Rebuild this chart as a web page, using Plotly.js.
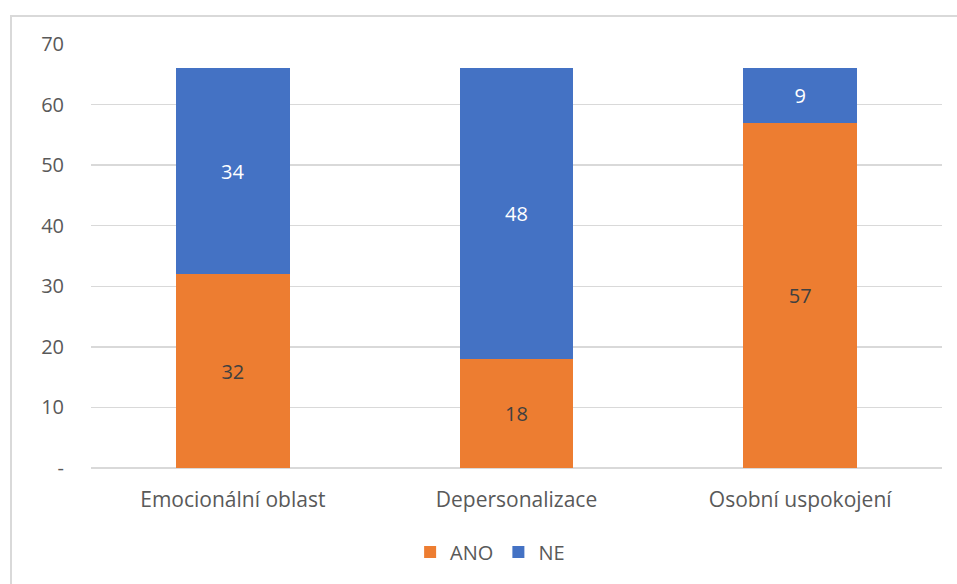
<!DOCTYPE html>
<html><head><meta charset="utf-8">
<script src="https://cdn.plot.ly/plotly-3.0.1.min.js"></script>
<style>
html,body{margin:0;padding:0;background:#fff;overflow:hidden;}
#frame{position:absolute;left:10px;top:15px;width:980px;height:600px;border:2px solid #d9d9d9;box-sizing:border-box;}
#chart{position:absolute;left:0;top:0;width:957px;height:584px;}
</style></head>
<body>
<div id="frame"></div>
<div id="chart"></div>
<script>
const categories = ["Emocionální oblast", "Depersonalizace", "Osobní uspokojení"];
const ano = [32, 18, 57];
const ne = [34, 48, 9];
const tickVals = [0, 10, 20, 30, 40, 50, 60, 70];
const tickText = ["-", "10", "20", "30", "40", "50", "60", "70"];

const fam = "Open Sans, Noto Sans, sans-serif";
const grey = "#595959";
const traces = [
  {type: "bar", name: "ANO", x: categories, y: ano, marker: {color: "#ED7D31"}, width: 0.4,
   text: ano.map(String), textposition: "inside", insidetextanchor: "middle",
   textfont: {family: fam, size: 20, color: "#404040"}, hoverinfo: "none"},
  {type: "bar", name: "NE", x: categories, y: ne, marker: {color: "#4472C4"}, width: 0.4,
   text: ne.map(String), textposition: "inside", insidetextanchor: "middle",
   textfont: {family: fam, size: 20, color: "#ffffff"}, hoverinfo: "none"}
];
const layout = {
  width: 957, height: 584,
  barmode: "stack",
  paper_bgcolor: "rgba(0,0,0,0)", plot_bgcolor: "rgba(0,0,0,0)",
  margin: {l: 91, r: 15, t: 44, b: 116},
  font: {family: fam, size: 20, color: grey},
  showlegend: true,
  legend: {orientation: "h", x: 0.469, xanchor: "center", y: -0.198, yanchor: "middle",
           font: {family: fam, size: 20, color: grey}, itemwidth: 30, traceorder: "normal"},
  xaxis: {showgrid: false, zeroline: false, showline: false, ticks: "", ticklabelstandoff: 17,
          tickfont: {family: fam, size: 21, color: grey}},
  yaxis: {range: [0, 70], tickvals: tickVals, ticktext: tickText, showgrid: true,
          gridcolor: "#d9d9d9", gridwidth: 1.5, zeroline: true, zerolinecolor: "#d9d9d9", zerolinewidth: 1.5,
          showline: false, ticks: "", ticklabelstandoff: 26,
          tickfont: {family: fam, size: 20, color: grey}}
};
Plotly.newPlot("chart", traces, layout, {displayModeBar: false, staticPlot: true});
</script>
</body></html>
